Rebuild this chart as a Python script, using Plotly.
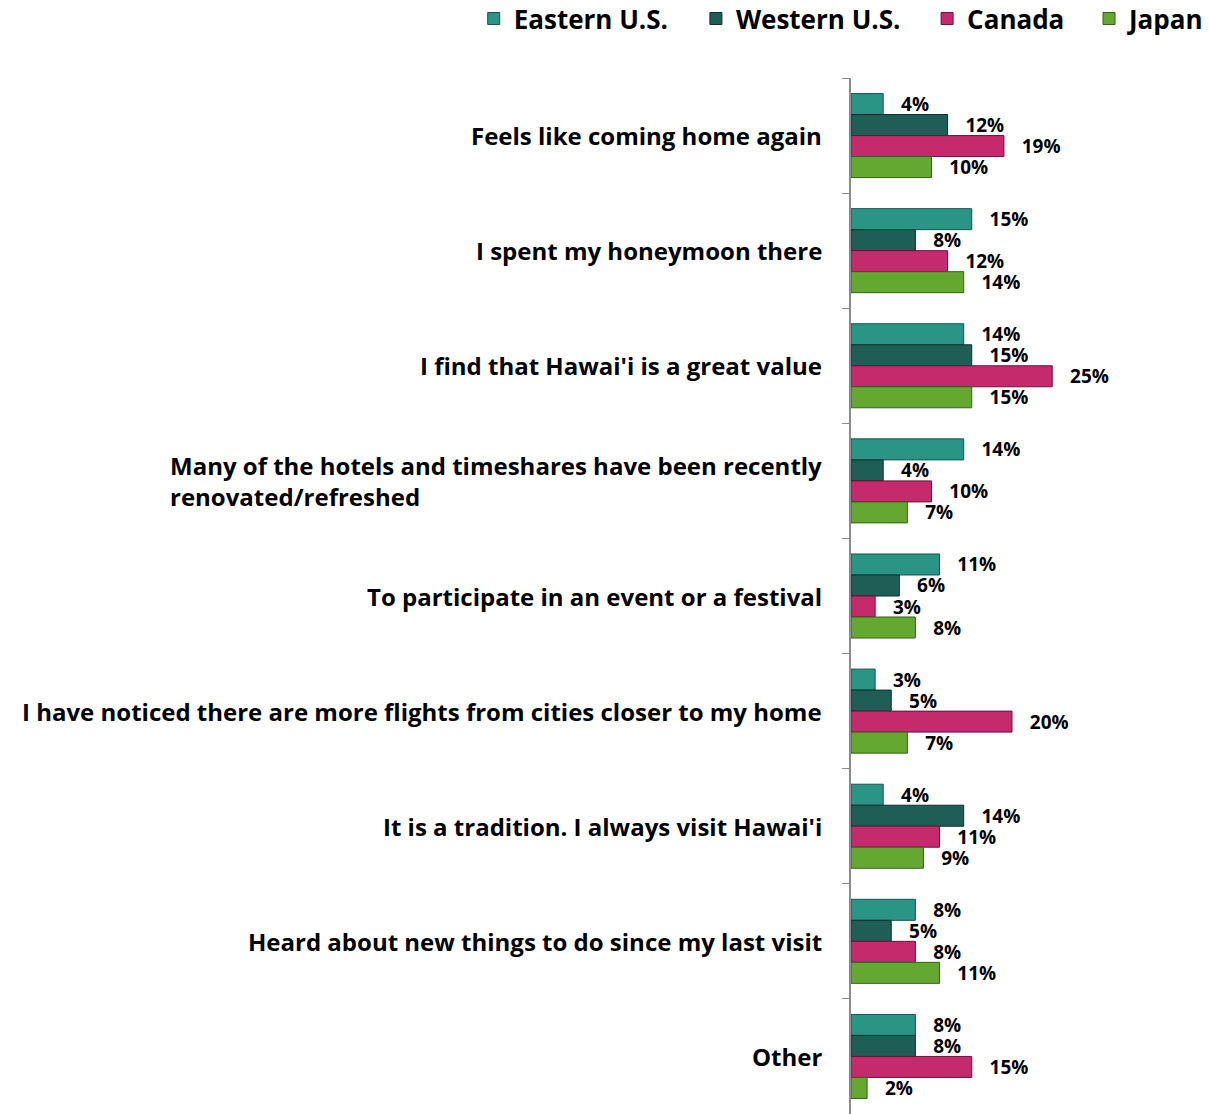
import plotly.graph_objects as go

# Survey reasons, top to bottom
categories = [
    "Feels like coming home again",
    "I spent my honeymoon there",
    "I find that Hawai'i is a great value",
    "Many of the hotels and timeshares have been recently<br>renovated/refreshed",
    "To participate in an event or a festival",
    "I have noticed there are more flights from cities closer to my home",
    "It is a tradition. I always visit Hawai'i",
    "Heard about new things to do since my last visit",
    "Other",
]

eastern = [4, 15, 14, 14, 11, 3, 4, 8, 8]
western = [12, 8, 15, 4, 6, 5, 14, 5, 8]
canada = [19, 12, 25, 10, 3, 20, 11, 8, 15]
japan = [10, 14, 15, 7, 8, 7, 9, 11, 2]

series = [
    ("Eastern U.S.", eastern, "#2a9485", "#17564e"),
    ("Western U.S.", western, "#1f5e57", "#0d302c"),
    ("Canada", canada, "#c42a6c", "#6e1239"),
    ("Japan", japan, "#64a832", "#34601a"),
]

FONT = "Open Sans"
legend_ids = ["legend", "legend2", "legend3", "legend4"]
legend_x = [-1.051, -0.432, 0.212, 0.663]  # one legend box per series

fig = go.Figure()
for (name, vals, col, edge), lg in zip(series, legend_ids):
    fig.add_trace(go.Bar(
        y=categories,
        x=vals,
        name=name,
        legend=lg,
        orientation="h",
        marker=dict(color=col, line=dict(color=edge, width=1)),
        text=[f"\u00a0\u00a0\u00a0{v}%" for v in vals],
        textposition="outside",
        constraintext="none",
        textfont=dict(size=19, color="black", family=FONT, weight="bold"),
        cliponaxis=False,
    ))

# category labels as annotations so the two-line label is left aligned
for cat in categories:
    fig.add_annotation(
        x=0, xref="paper", y=cat, yref="y",
        text=cat, showarrow=False,
        xanchor="right", align="left", xshift=-27,
        font=dict(size=24, color="black", family=FONT, weight="bold"),
    )

legend_style = dict(
    orientation="h",
    xanchor="left",
    y=1.08, yanchor="top",
    font=dict(size=26, color="black", family=FONT, weight="bold"),
    itemwidth=30,
    bgcolor="rgba(0,0,0,0)",
)

fig.update_layout(
    width=1210,
    height=1114,
    margin=dict(l=851, r=0, t=78, b=0, autoexpand=False),
    paper_bgcolor="white",
    plot_bgcolor="white",
    barmode="group",
    bargap=0.27,
    bargroupgap=0,
    showlegend=True,
    xaxis=dict(range=[0, 44.6], visible=False),
    yaxis=dict(
        autorange="reversed",
        showticklabels=False,
        showline=True, linecolor="#8c8c8c", linewidth=2,
        ticks="outside", ticklen=7, tickcolor="#8c8c8c", tickwidth=1,
        tickson="boundaries",
        showgrid=False,
    ),
)
for lg, lx in zip(legend_ids, legend_x):
    fig.update_layout({lg: dict(legend_style, x=lx)})

fig.write_html("out.html", config={"displayModeBar": False},
               post_script="document.body.style.margin='0';")
